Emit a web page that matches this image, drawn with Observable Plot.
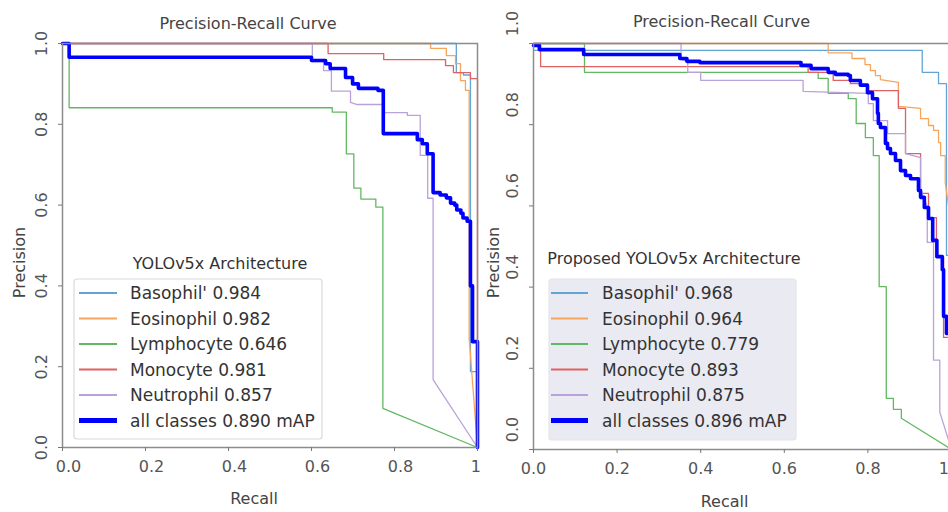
<!DOCTYPE html>
<html><head><meta charset="utf-8">
<script src="https://cdn.jsdelivr.net/npm/d3@7"></script>
<script src="https://cdn.jsdelivr.net/npm/@observablehq/plot@0.6"></script>
<style>
html,body{margin:0;padding:0;background:#fff;}
#page{position:relative;width:948px;height:512px;overflow:hidden;background:#fff;font-family:"DejaVu Sans",sans-serif;}
.panel{position:absolute;top:0;height:512px;overflow:hidden;}
#legend{position:absolute;left:0;top:0;pointer-events:none;}
</style></head><body>
<div id="page"><div class="panel" id="p0" style="left:0;width:480px"></div><div class="panel" id="p1" style="left:480px;width:468px"></div></div>
<script>
// ---------- data ----------
const classNames = ["Basophil'", "Eosinophil", "Lymphocyte", "Monocyte", "Neutrophil"];
const classColors = ["#62a4d4", "#f6a55c", "#62b862", "#e06161", "#b9a2d9"];
const allColor = "#0000ff";
const panelTitles = ["YOLOv5x Architecture", "Proposed YOLOv5x Architecture"];
const chartTitle = "Precision-Recall Curve";
const xLabel = "Recall", yLabel = "Precision";
const xTicks = [0, 0.2, 0.4, 0.6, 0.8, 1.0];
const yTicks = [0, 0.2, 0.4, 0.6, 0.8, 1.0];
const apLeft = [0.984, 0.982, 0.646, 0.981, 0.857];
const mapLeft = 0.890;
const apRight = [0.968, 0.964, 0.779, 0.893, 0.875];
const mapRight = 0.896;

// [recall, precision] vertices
const leftBasophil = [[0,1],[0.949,1],[0.949,0.928],[0.966,0.928],[0.966,0.922],[0.983,0.922],[0.983,0.188],[1,0.188],[1,0]];
const leftEosinophil = [[0,1],[0.887,1],[0.887,0.988],[0.925,0.988],[0.925,0.970],[0.947,0.970],[0.947,0.950],[0.959,0.950],[0.959,0.908],[0.971,0.908],[0.971,0.884],[0.980,0.884],[0.980,0.27],[1,0]];
const leftLymphocyte = [[0,1],[0.016,1],[0.016,0.841],[0.650,0.841],[0.650,0.830],[0.684,0.830],[0.684,0.727],[0.702,0.727],[0.702,0.642],[0.719,0.642],[0.719,0.615],[0.755,0.615],[0.755,0.595],[0.772,0.595],[0.772,0.097],[1,0]];
const leftMonocyte = [[0,1],[0.640,1],[0.640,0.975],[0.774,0.975],[0.774,0.960],[0.923,0.960],[0.923,0.945],[0.942,0.945],[0.942,0.928],[0.983,0.928],[0.983,0.913],[1,0.913],[1,0]];
const leftNeutrophil = [[0,1],[0.602,1],[0.602,0.955],[0.629,0.955],[0.629,0.933],[0.648,0.933],[0.648,0.882],[0.694,0.882],[0.694,0.854],[0.710,0.849],[0.773,0.849],[0.773,0.829],[0.831,0.829],[0.831,0.822],[0.862,0.822],[0.862,0.723],[0.880,0.723],[0.880,0.617],[0.893,0.617],[0.893,0.168],[1,0]];
// all classes (step-after breakpoints)
const leftAll = [[0,1],[0.016,0.966],[0.600,0.958],[0.634,0.950],[0.645,0.938],[0.682,0.916],[0.699,0.900],[0.713,0.889],[0.760,0.884],[0.773,0.777],[0.855,0.762],[0.867,0.752],[0.879,0.727],[0.893,0.631],[0.910,0.625],[0.925,0.618],[0.935,0.605],[0.945,0.600],[0.950,0.588],[0.960,0.580],[0.965,0.568],[0.975,0.560],[0.983,0.400],[0.988,0.262],[1,0.233],[1,0]];

const rightBasophil = [[0,0.983],[0.930,0.983],[0.930,0.929],[0.969,0.929],[0.969,0.901],[0.988,0.901],[0.988,0.478],[1,0.478],[1,0]];
const rightEosinophil = [[0,1],[0.705,1],[0.705,0.977],[0.762,0.977],[0.762,0.963],[0.793,0.963],[0.793,0.948],[0.806,0.948],[0.806,0.933],[0.818,0.933],[0.818,0.921],[0.830,0.921],[0.830,0.911],[0.873,0.904],[0.873,0.845],[0.926,0.840],[0.926,0.815],[0.945,0.815],[0.945,0.798],[0.957,0.798],[0.957,0.786],[0.969,0.786],[0.969,0.756],[0.974,0.756],[0.974,0.724],[0.985,0.724],[0.985,0.657],[0.993,0.600],[1,0.550],[1,0]];
const rightLymphocyte = [[0,1],[0.122,1],[0.122,0.929],[0.681,0.929],[0.681,0.914],[0.705,0.914],[0.705,0.877],[0.753,0.877],[0.753,0.864],[0.772,0.864],[0.772,0.803],[0.794,0.803],[0.794,0.768],[0.813,0.768],[0.813,0.724],[0.827,0.724],[0.827,0.401],[0.844,0.401],[0.844,0.126],[0.861,0.126],[0.861,0.099],[0.880,0.099],[0.880,0.077],[1,0]];
const rightMonocyte = [[0,1],[0.017,1],[0.017,0.943],[0.657,0.943],[0.657,0.929],[0.717,0.929],[0.717,0.909],[0.758,0.909],[0.758,0.901],[0.800,0.901],[0.800,0.884],[0.873,0.884],[0.873,0.840],[0.890,0.840],[0.890,0.729],[0.926,0.729],[0.926,0.631],[0.945,0.631],[0.945,0.571],[0.964,0.571],[0.964,0.473],[0.981,0.473],[0.981,0.276],[1,0.276],[1,0]];
const rightNeutrophil = [[0,1],[0.353,1],[0.353,0.961],[0.369,0.955],[0.369,0.929],[0.400,0.929],[0.400,0.909],[0.645,0.909],[0.645,0.882],[0.801,0.877],[0.801,0.852],[0.813,0.852],[0.813,0.810],[0.847,0.810],[0.847,0.778],[0.890,0.778],[0.890,0.729],[0.926,0.719],[0.926,0.638],[0.942,0.600],[0.942,0.510],[0.957,0.510],[0.957,0.220],[0.972,0.220],[0.972,0.092],[1,0]];
const rightAll = [[0,0.995],[0.014,0.985],[0.120,0.973],[0.350,0.963],[0.367,0.956],[0.398,0.953],[0.640,0.946],[0.664,0.938],[0.705,0.929],[0.722,0.924],[0.753,0.921],[0.758,0.909],[0.782,0.897],[0.799,0.879],[0.811,0.864],[0.823,0.828],[0.825,0.803],[0.830,0.793],[0.842,0.754],[0.847,0.741],[0.854,0.729],[0.866,0.712],[0.878,0.687],[0.890,0.675],[0.902,0.667],[0.921,0.638],[0.926,0.621],[0.935,0.596],[0.945,0.569],[0.955,0.515],[0.965,0.475],[0.978,0.443],[0.981,0.328],[0.988,0.286],[1,0.25],[1,0]];

const leftCurves = [leftBasophil, leftEosinophil, leftLymphocyte, leftMonocyte, leftNeutrophil];
const rightCurves = [rightBasophil, rightEosinophil, rightLymphocyte, rightMonocyte, rightNeutrophil];

// ---------- drawing ----------
const fmt = d3.format(".1f");
const tickColor = "#555";
function panel(o) {
  return Plot.plot({
    width: o.width, height: 512,
    marginTop: 43, marginLeft: o.marginLeft, marginRight: o.marginRight, marginBottom: o.marginBottom,
    x: {domain: [0, 1]}, y: {domain: [0, 1]},
    style: {fontFamily: "DejaVu Sans, sans-serif", background: "transparent", maxWidth: "none"},
    marks: [
      ...o.curves.map((c, i) => Plot.line(c, {x: d => d[0], y: d => d[1], stroke: classColors[i], strokeWidth: 1.3})),
      Plot.line(o.all, {x: d => d[0], y: d => d[1], curve: "step-after", stroke: allColor, strokeWidth: 3.6}),
      Plot.frame({stroke: "#8c8c8c", strokeWidth: 1.5}),
      Plot.axisX({ticks: xTicks, tickSize: 4, tickFormat: () => "", label: null, stroke: "#777"}),
      Plot.axisY({ticks: yTicks, tickSize: 4, tickFormat: () => "", label: null, stroke: "#777"}),
      Plot.text(xTicks, {x: d => d, text: d => fmt(d), frameAnchor: "bottom", lineAnchor: "top", dy: 13, dx: o.xTickDx, fontSize: 16, fill: tickColor}),
      Plot.text(yTicks, {y: d => d, text: d => fmt(d), frameAnchor: "left", rotate: -90, lineAnchor: "bottom", textAnchor: "middle", dx: -16, dy: o.yTickDy, fontSize: 16, fill: tickColor}),
      Plot.text([chartTitle], {text: d => d, frameAnchor: "top", lineAnchor: "middle", dx: o.titleDx, dy: o.titleDy, fontSize: 16, fill: "#444"}),
      Plot.text([xLabel], {text: d => d, frameAnchor: "bottom", lineAnchor: "middle", dx: o.recallDx, dy: o.recallDy, fontSize: 16, fill: "#444"}),
      Plot.text([yLabel], {text: d => d, frameAnchor: "left", rotate: -90, lineAnchor: "middle", textAnchor: "middle", dx: o.precDx, dy: o.precDy, fontSize: 16, fill: "#444"})
    ]
  });
}

document.getElementById("p0").appendChild(panel({
  curves: leftCurves, all: leftAll, width: 480, marginLeft: 62, marginRight: 3, marginBottom: 65,
  xTickDx: 6, yTickDy: 0, titleDx: -22, titleDy: -20, recallDx: -16, recallDy: 51, precDx: -43, precDy: 17
}));
document.getElementById("p1").appendChild(panel({
  curves: rightCurves, all: rightAll, width: 480, marginLeft: 53, marginRight: 9, marginBottom: 63,
  xTickDx: 0, yTickDy: -20, titleDx: -21, titleDy: -22, recallDx: -18, recallDy: 52, precDx: -40, precDy: 16
}));

// ---------- legends ----------
const legendSpecs = [
  {x: 74, y: 279, w: 248, h: 160, fill: "#ffffff", stroke: "#d9d9d9", title: panelTitles[0], tx: 220, ty: 263, s0: 79, s1: 117, lx: 130, ap: apLeft, map: mapLeft},
  {x: 549, y: 279, w: 247, h: 161, fill: "#eaeaf2", stroke: "#e4e4ec", title: panelTitles[1], tx: 674, ty: 258, s0: 551, s1: 588, lx: 602, ap: apRight, map: mapRight}
];
const svg = d3.select("#page").append("svg").attr("id", "legend").attr("width", 948).attr("height", 512)
  .style("font-family", "DejaVu Sans, sans-serif");
for (const L of legendSpecs) {
  svg.append("rect").attr("x", L.x).attr("y", L.y).attr("width", L.w).attr("height", L.h)
    .attr("rx", 3).attr("fill", L.fill).attr("stroke", L.stroke).attr("stroke-width", 1.2);
  svg.append("text").attr("x", L.tx).attr("y", L.ty).attr("text-anchor", "middle").attr("dominant-baseline", "central")
    .attr("font-size", 16).attr("fill", "#333").text(L.title);
  const rows = classNames.map((n, i) => ({label: `${n} ${L.ap[i].toFixed(3)}`, color: classColors[i], w: 2}))
    .concat([{label: `all classes ${L.map.toFixed(3)} mAP`, color: allColor, w: 5}]);
  rows.forEach((r, i) => {
    const yy = L.y + 14 + i * 25.5;
    svg.append("line").attr("x1", L.s0).attr("x2", L.s1).attr("y1", yy).attr("y2", yy)
      .attr("stroke", r.color).attr("stroke-width", r.w);
    svg.append("text").attr("x", L.lx).attr("y", yy).attr("dominant-baseline", "central")
      .attr("font-size", 17).attr("fill", "#333").text(r.label);
  });
}
</script>
</body></html>
